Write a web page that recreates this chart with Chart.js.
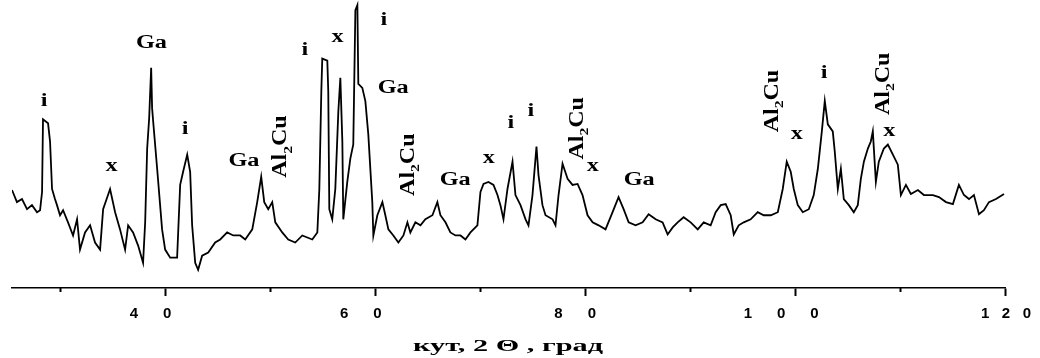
<!DOCTYPE html>
<html>
<head>
<meta charset="utf-8">
<script src="https://cdn.jsdelivr.net/npm/chart.js@4"></script>
<style>
  html, body { margin: 0; padding: 0; background: #fff; }
  #wrap { width: 1040px; height: 358px; }
</style>
</head>
<body>
<div id="wrap"><canvas id="c" width="1040" height="358"></canvas></div>
<script>
// 2θ positions (degrees) and intensities (a.u.)
const twoTheta = [
  25.43, 25.90, 26.38, 26.86, 27.33, 27.81, 28.10, 28.29, 28.38, 28.86, 29.05, 29.24, 29.52, 29.71,
  30.00, 30.29, 30.76, 31.24, 31.62, 31.90, 32.38, 32.86, 33.33, 33.81, 34.10, 34.76, 35.24, 35.71,
  36.19, 36.48, 36.95, 37.43, 37.90, 38.10, 38.29, 38.48, 38.67, 38.76, 38.86, 39.24, 39.71, 40.00,
  40.48, 41.14, 41.43, 41.71, 42.10, 42.38, 42.57, 42.86, 43.14, 43.52, 44.10, 44.76, 45.24, 45.90,
  46.48, 47.14, 47.62, 48.29, 48.76, 49.14, 49.43, 49.81, 50.19, 50.48, 51.14, 51.71, 52.38, 53.05,
  54.00, 54.48, 54.67, 54.86, 54.95, 55.43, 55.52, 55.62, 55.90, 56.19, 56.48, 56.67, 56.86, 56.95,
  57.33, 57.62, 57.90, 58.10, 58.29, 58.38, 58.76, 59.05, 59.33, 59.71, 59.81, 60.19, 60.67, 60.95,
  61.24, 61.71, 62.19, 62.67, 63.05, 63.33, 63.81, 64.29, 64.76, 65.43, 65.90, 66.19, 66.67, 67.14,
  67.62, 68.10, 68.57, 69.05, 69.71, 70.00, 70.29, 70.76, 71.24, 71.62, 71.90, 72.19, 72.57, 73.05,
  73.33, 73.81, 74.29, 74.57, 74.95, 75.33, 75.52, 75.90, 76.19, 76.86, 77.14, 77.43, 77.81, 78.29,
  78.76, 79.24, 79.71, 80.19, 80.67, 81.24, 81.90, 82.57, 83.14, 83.62, 84.10, 84.76, 85.43, 86.00,
  86.67, 87.33, 87.81, 88.29, 88.76, 89.33, 90.00, 90.67, 91.24, 91.90, 92.38, 92.86, 93.33, 93.81,
  94.10, 94.57, 95.05, 95.71, 96.38, 96.95, 97.62, 98.29, 98.76, 99.14, 99.52, 99.81, 100.19, 100.67,
  101.24, 101.71, 102.10, 102.48, 102.76, 103.05, 103.52, 103.71, 104.00, 104.29, 104.57, 105.05, 105.52, 105.90,
  106.19, 106.48, 106.86, 107.14, 107.33, 107.62, 107.90, 108.38, 108.76, 109.24, 109.71, 110.00, 110.48, 110.95,
  111.62, 112.19, 113.05, 113.62, 114.29, 114.95, 115.52, 116.00, 116.48, 116.95, 117.43, 117.90, 118.38, 119.05,
  119.81
];
const intensity = [
  97, 85, 88, 78, 82, 75, 77, 95, 167, 163, 145, 98, 88, 82,
  72, 77, 65, 52, 68, 38, 55, 62, 45, 38, 78, 98, 75, 58,
  38, 62, 55, 42, 25, 65, 138, 168, 218, 178, 165, 118, 58, 38,
  30, 30, 102, 115, 132, 115, 62, 25, 18, 32, 35, 45, 48, 55,
  52, 52, 48, 58, 85, 110, 85, 78, 85, 65, 55, 48, 45, 52,
  48, 55, 98, 195, 227, 225, 195, 78, 68, 98, 175, 208, 145, 68,
  105, 128, 142, 275, 280, 202, 198, 185, 152, 85, 52, 72, 85, 72,
  58, 52, 45, 52, 65, 55, 65, 62, 68, 72, 85, 72, 65, 55,
  52, 52, 48, 55, 62, 95, 103, 105, 102, 92, 82, 68, 98, 125,
  92, 82, 68, 62, 92, 140, 112, 82, 72, 68, 62, 92, 123, 108,
  102, 103, 92, 72, 65, 62, 58, 75, 90, 78, 65, 62, 65, 73,
  68, 65, 53, 60, 65, 70, 65, 58, 65, 62, 75, 82, 83, 72,
  53, 62, 65, 68, 75, 72, 72, 75, 98, 125, 115, 98, 82, 75,
  78, 92, 118, 155, 185, 162, 155, 135, 98, 118, 88, 82, 75, 82,
  108, 125, 138, 145, 155, 105, 125, 138, 142, 132, 122, 92, 102, 93,
  97, 92, 92, 90, 85, 83, 102, 92, 88, 92, 73, 77, 85, 88,
  93
];

// axis ticks
const majorTicks = [40, 60, 80, 100, 120];
const minorTicks = [30, 50, 70, 90, 110];
const tickLabels = ['4      0       ', '6      0       ', '8      0     ', '1      0      0       ', '1   2   0'];

// phase annotations: text, 2θ, intensity level
const peakText  = ['i', 'x', 'Ga', 'i', 'Ga', 'Al2Cu', 'i', 'x', 'i', 'Ga', 'Al2Cu', 'Ga', 'x', 'i', 'i', 'Al2Cu', 'x', 'Ga', 'Al2Cu', 'x', 'i', 'Al2Cu', 'x'];
const peakTheta = [28.48, 34.90, 38.70, 41.90, 47.50, 51.05, 53.30, 56.40, 60.80, 61.70, 63.14, 67.60, 70.80, 72.90, 74.80, 79.24, 80.70, 85.10, 97.81, 100.10, 102.70, 108.38, 108.90];
const peakLevel = [185, 120, 242, 157, 125, 140, 235, 248, 265, 198, 122, 107, 128, 163, 175, 158, 120, 107, 185, 152, 212, 202, 155];

const points = twoTheta.map((t, i) => ({ x: t, y: intensity[i] }));

const annotate = {
  id: 'annotate',
  afterDatasetsDraw(chart) {
    const { ctx, scales } = chart;
    ctx.save();
    ctx.fillStyle = '#000';
    peakText.forEach((txt, i) => {
      const px = scales.x.getPixelForValue(peakTheta[i]);
      const py = scales.y.getPixelForValue(peakLevel[i]);
      ctx.save();
      ctx.translate(px, py);
      if (txt === 'Al2Cu') {
        ctx.rotate(-Math.PI / 2);
        ctx.scale(1.2, 1);
        ctx.textBaseline = 'middle';
        ctx.textAlign = 'left';
        ctx.font = 'bold 20px "Liberation Serif", serif';
        const wAl = ctx.measureText('Al').width;
        const wCu = ctx.measureText('Cu').width;
        ctx.font = 'bold 13px "Liberation Serif", serif';
        const w2 = ctx.measureText('2').width;
        const total = wAl + w2 + wCu;
        let x0 = -total / 2;
        ctx.font = 'bold 20px "Liberation Serif", serif';
        ctx.fillText('Al', x0, 0);
        ctx.font = 'bold 13px "Liberation Serif", serif';
        ctx.fillText('2', x0 + wAl, 7);
        ctx.font = 'bold 20px "Liberation Serif", serif';
        ctx.fillText('Cu', x0 + wAl + w2, 0);
      } else {
        ctx.scale(1.35, 1);
        ctx.textAlign = 'center';
        ctx.textBaseline = 'middle';
        ctx.font = 'bold 18px "Liberation Serif", serif';
        ctx.fillText(txt, 0, 0);
      }
      ctx.restore();
    });
    // axis title
    const title = 'кут, 2 Θ , град';
    ctx.font = 'bold 17px "Liberation Serif", serif';
    const w = ctx.measureText(title).width;
    const sx = 190 / w;
    ctx.translate(508, 347);
    ctx.scale(sx, 1);
    ctx.textAlign = 'center';
    ctx.textBaseline = 'middle';
    ctx.fillText(title, 0, 0);
    ctx.restore();
  }
};

new Chart(document.getElementById('c'), {
  type: 'line',
  data: {
    datasets: [{
      data: points,
      borderColor: '#000',
      borderWidth: 1.8,
      pointRadius: 0,
      tension: 0,
      fill: false
    }]
  },
  options: {
    responsive: false,
    animation: false,
    events: [],
    layout: { padding: { left: 12, right: 34, top: 0, bottom: 26 } },
    plugins: { legend: { display: false }, tooltip: { enabled: false } },
    scales: {
      x: {
        type: 'linear',
        min: 25.43,
        max: 120,
        afterBuildTicks: s => { s.ticks = majorTicks.map(v => ({ value: v })); },
        border: { display: true, color: '#000', width: 1.5 },
        grid: { drawOnChartArea: false, drawTicks: true, tickLength: 8, tickColor: '#000', tickWidth: 2 },
        ticks: {
          padding: 9,
          color: '#000',
          font: { family: '"Liberation Sans", Arial, sans-serif', size: 15, weight: 'bold' },
          maxRotation: 0,
          autoSkip: false,
          callback: (v) => tickLabels[majorTicks.indexOf(v)]
        }
      },
      x2: {
        type: 'linear',
        axis: 'x',
        position: { y: 0 },
        min: 25.43,
        max: 120,
        afterBuildTicks: s => { s.ticks = minorTicks.map(v => ({ value: v })); },
        border: { display: false },
        grid: { drawOnChartArea: false, drawTicks: true, tickLength: 4, tickColor: '#000', tickWidth: 2 },
        ticks: { display: false }
      },
      y: {
        display: false,
        min: 0,
        max: 285
      }
    }
  },
  plugins: [annotate]
});
</script>
</body>
</html>
